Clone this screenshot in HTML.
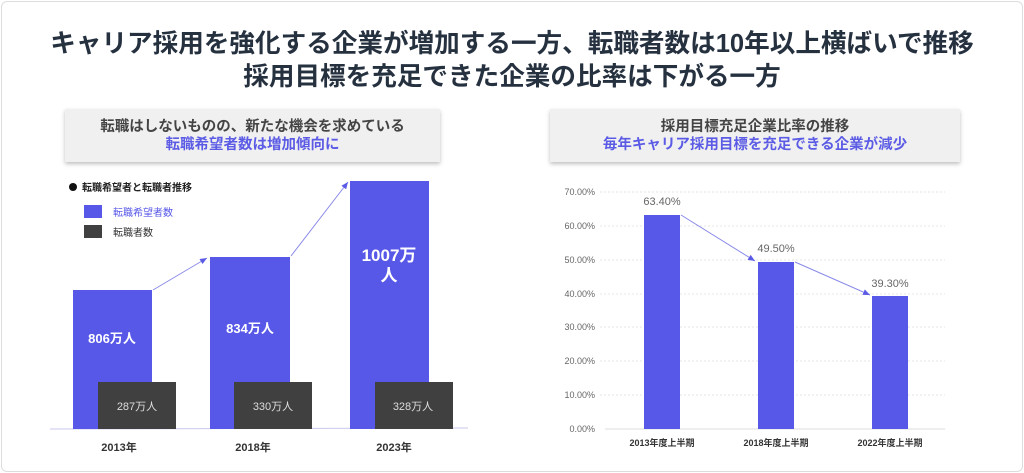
<!DOCTYPE html>
<html><head><meta charset="utf-8"><style>
html,body{margin:0;padding:0;background:#fff}
body{width:1024px;height:473px;position:relative;overflow:hidden;font-family:"Liberation Sans","Noto Sans CJK JP",sans-serif}
.frame{position:absolute;left:1px;top:1px;width:1020px;height:469px;border:1px solid #ddd;border-radius:6px}
.t{position:absolute;white-space:nowrap}
.title{left:0;width:1024px;text-align:center;font-weight:bold;font-size:25.6px;color:#263140}
.box{position:absolute;background:#f0f0f0;box-shadow:0 2px 4px rgba(0,0,0,.25);text-align:center;font-weight:bold;font-size:14.5px;line-height:18px;padding-top:9px;box-sizing:border-box;color:#444}
.box span{color:#5b5be6}
</style></head><body>
<div class="frame"></div>
<div class="t title" style="top:23px">キャリア採用を強化する企業が増加する一方、転職者数は10年以上横ばいで推移</div>
<div class="t title" style="top:56px">採用目標を充足できた企業の比率は下がる一方</div>
<div class="box" style="left:65px;top:109px;width:375px;height:53px">転職はしないものの、新たな機会を求めている<br><span>転職希望者数は増加傾向に</span></div>
<div class="box" style="left:550px;top:109px;width:410px;height:53px">採用目標充足企業比率の推移<br><span>毎年キャリア採用目標を充足できる企業が減少</span></div>
<svg width="1024" height="473" style="position:absolute;left:0;top:0" font-family="Liberation Sans, Noto Sans CJK JP, sans-serif">
<defs><marker id="a" markerWidth="8" markerHeight="8" refX="7" refY="4" orient="auto"><path d="M0,1 L7,4 L0,7z" fill="#5b5be6"/></marker></defs>
<circle cx="73" cy="187" r="4" fill="#111"/>
<text x="82" y="191" font-size="10" font-weight="bold" fill="#222">転職希望者と転職者推移</text>
<rect x="84" y="205" width="18" height="13" fill="#5858e8"/>
<text x="113" y="216" font-size="10" fill="#5858e8">転職希望者数</text>
<rect x="84" y="225" width="18" height="13" fill="#404040"/>
<text x="113" y="236" font-size="10" fill="#333">転職者数</text>
<line x1="50" y1="429" x2="468" y2="428" stroke="#c8c8ee" stroke-width="1"/>
<rect x="73" y="290" width="79" height="139" fill="#5858e8"/>
<rect x="210" y="257" width="80" height="172" fill="#5858e8"/>
<rect x="350" y="181" width="79" height="248" fill="#5858e8"/>
<rect x="98" y="382" width="78" height="47" fill="#404040"/>
<rect x="234" y="382" width="78" height="47" fill="#404040"/>
<rect x="375" y="382" width="78" height="47" fill="#404040"/>
<line x1="153" y1="290" x2="207" y2="258" stroke="#8a8ae8" marker-end="url(#a)"/>
<line x1="291" y1="256" x2="348" y2="182" stroke="#8a8ae8" marker-end="url(#a)"/>
<g font-weight="bold" fill="#fff" text-anchor="middle">
<text x="112" y="343" font-size="13">806万人</text>
<text x="250" y="333" font-size="13">834万人</text>
<text x="389" y="261" font-size="17">1007万</text>
<text x="389" y="281" font-size="17">人</text></g>
<g fill="#ddd" font-size="11" text-anchor="middle">
<text x="137" y="410">287万人</text><text x="273" y="410">330万人</text><text x="413" y="410">328万人</text></g>
<g font-weight="bold" fill="#333" font-size="11" text-anchor="middle">
<text x="119" y="451">2013年</text><text x="253" y="451">2018年</text><text x="394" y="451">2023年</text></g>
<g stroke="#e6e6e6" stroke-dasharray="2,2">
<line x1="600" y1="192" x2="945" y2="192"/><line x1="600" y1="226" x2="945" y2="226"/><line x1="600" y1="260" x2="945" y2="260"/><line x1="600" y1="294" x2="945" y2="294"/><line x1="600" y1="327" x2="945" y2="327"/><line x1="600" y1="361" x2="945" y2="361"/><line x1="600" y1="395" x2="945" y2="395"/></g>
<line x1="605" y1="429" x2="945" y2="429" stroke="#ddd"/>
<g fill="#666" font-size="9" text-anchor="end">
<text x="595" y="195">70.00%</text><text x="595" y="229">60.00%</text><text x="595" y="263">50.00%</text><text x="595" y="297">40.00%</text><text x="595" y="330">30.00%</text><text x="595" y="364">20.00%</text><text x="595" y="398">10.00%</text><text x="595" y="432">0.00%</text></g>
<rect x="644" y="215" width="36" height="214" fill="#5858e8"/>
<rect x="758" y="262" width="36" height="167" fill="#5858e8"/>
<rect x="872" y="296" width="36" height="133" fill="#5858e8"/>
<line x1="681" y1="215" x2="755" y2="261" stroke="#8a8ae8" marker-end="url(#a)"/>
<line x1="795" y1="262" x2="870" y2="295" stroke="#8a8ae8" marker-end="url(#a)"/>
<g fill="#666" font-size="11" text-anchor="middle">
<text x="662" y="205">63.40%</text><text x="776" y="252">49.50%</text><text x="890" y="287">39.30%</text></g>
<g font-weight="bold" fill="#333" font-size="9" text-anchor="middle">
<text x="662" y="446">2013年度上半期</text><text x="776" y="446">2018年度上半期</text><text x="890" y="446">2022年度上半期</text></g>
</svg>
</body></html>
